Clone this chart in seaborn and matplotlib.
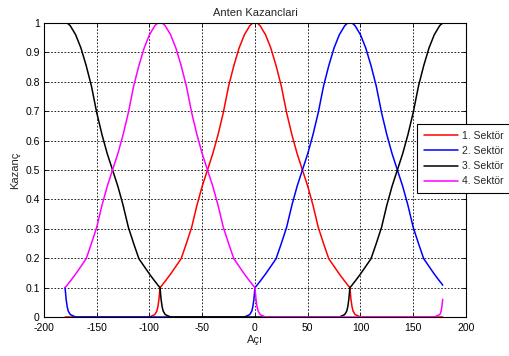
import numpy as np
import pandas as pd
import matplotlib
matplotlib.use("Agg")
import matplotlib.pyplot as plt
import seaborn as sns

# ---- data ----
angles = [-180, -179, -178, -177, -175,
          -170, -165, -160, -155, -150, -145, -140, -135, -130, -125, -120, -115, -110, -105, -100,
          -95, -93, -92, -91, -90, -89, -88, -87,
          -85, -80, -75, -70, -65, -60, -55, -50, -45, -40, -35, -30, -25, -20, -15, -10, -5,
          -3, -2, -1, 0, 1, 2, 3,
          5, 10, 15, 20, 25, 30, 35, 40, 45, 50, 55, 60, 65, 70, 75, 80, 85,
          87, 88, 89, 90, 91, 92, 93, 95,
          100, 105, 110, 115, 120, 125, 130, 135, 140, 145, 150, 155, 160, 165, 170, 175,
          176, 177, 178]

sektor1 = [0, 0, 0, 0, 0,
           0, 0, 0, 0, 0, 0, 0, 0, 0, 0, 0, 0, 0, 0, 0,
           0.008, 0.02, 0.035, 0.06, 0.1, 0.104, 0.108, 0.113,
           0.122, 0.146, 0.172, 0.198, 0.25, 0.305, 0.38, 0.445, 0.5, 0.555, 0.62, 0.695, 0.785, 0.855, 0.915, 0.96, 0.99,
           0.997, 0.999, 1.0, 1.0, 1.0, 0.999, 0.997,
           0.99, 0.96, 0.915, 0.855, 0.785, 0.695, 0.62, 0.555, 0.5, 0.445, 0.38, 0.305, 0.25, 0.198, 0.172, 0.146, 0.122,
           0.113, 0.108, 0.104, 0.1, 0.06, 0.035, 0.02, 0.008,
           0, 0, 0, 0, 0, 0, 0, 0, 0, 0, 0, 0, 0, 0, 0, 0,
           0, 0, 0]

sektor2 = [0.1, 0.06, 0.035, 0.02, 0.008,
           0, 0, 0, 0, 0, 0, 0, 0, 0, 0, 0, 0, 0, 0, 0,
           0, 0, 0, 0, 0, 0, 0, 0,
           0, 0, 0, 0, 0, 0, 0, 0, 0, 0, 0, 0, 0, 0, 0, 0, 0.008,
           0.02, 0.035, 0.06, 0.1, 0.104, 0.108, 0.113,
           0.122, 0.146, 0.172, 0.198, 0.25, 0.305, 0.38, 0.445, 0.5, 0.555, 0.62, 0.695, 0.785, 0.855, 0.915, 0.96, 0.99,
           0.997, 0.999, 1.0, 1.0, 1.0, 0.999, 0.997, 0.99,
           0.96, 0.915, 0.855, 0.785, 0.695, 0.62, 0.555, 0.5, 0.445, 0.38, 0.305, 0.25, 0.198, 0.172, 0.146, 0.122,
           0.118, 0.113, 0.108]

sektor3 = [1.0, 1.0, 0.999, 0.997, 0.99,
           0.96, 0.915, 0.855, 0.785, 0.695, 0.62, 0.555, 0.5, 0.445, 0.38, 0.305, 0.25, 0.198, 0.172, 0.146,
           0.122, 0.113, 0.108, 0.104, 0.1, 0.06, 0.035, 0.02,
           0.008, 0, 0, 0, 0, 0, 0, 0, 0, 0, 0, 0, 0, 0, 0, 0, 0,
           0, 0, 0, 0, 0, 0, 0,
           0, 0, 0, 0, 0, 0, 0, 0, 0, 0, 0, 0, 0, 0, 0, 0, 0.008,
           0.02, 0.035, 0.06, 0.1, 0.104, 0.108, 0.113, 0.122,
           0.146, 0.172, 0.198, 0.25, 0.305, 0.38, 0.445, 0.5, 0.555, 0.62, 0.695, 0.785, 0.855, 0.915, 0.96, 0.99,
           0.994, 0.997, 0.999]

sektor4 = [0.1, 0.104, 0.108, 0.113, 0.122,
           0.146, 0.172, 0.198, 0.25, 0.305, 0.38, 0.445, 0.5, 0.555, 0.62, 0.695, 0.785, 0.855, 0.915, 0.96,
           0.99, 0.997, 0.999, 1.0, 1.0, 1.0, 0.999, 0.997,
           0.99, 0.96, 0.915, 0.855, 0.785, 0.695, 0.62, 0.555, 0.5, 0.445, 0.38, 0.305, 0.25, 0.198, 0.172, 0.146, 0.122,
           0.113, 0.108, 0.104, 0.1, 0.06, 0.035, 0.02,
           0.008, 0, 0, 0, 0, 0, 0, 0, 0, 0, 0, 0, 0, 0, 0, 0, 0,
           0, 0, 0, 0, 0, 0, 0, 0,
           0, 0, 0, 0, 0, 0, 0, 0, 0, 0, 0, 0, 0, 0, 0, 0.008,
           0.013, 0.03, 0.06]

labels = ["1. Sektör", "2. Sektör", "3. Sektör", "4. Sektör"]
colors = ["#ff0000", "#0000ff", "#000000", "#ff00ff"]
xticks = [-200, -150, -100, -50, 0, 50, 100, 150, 200]
yticks = [0, 0.1, 0.2, 0.3, 0.4, 0.5, 0.6, 0.7, 0.8, 0.9, 1]
ytick_labels = ["0", "0.1", "0.2", "0.3", "0.4", "0.5", "0.6", "0.7", "0.8", "0.9", "1"]

series = [sektor1, sektor2, sektor3, sektor4]
for s in series:
    assert len(s) == len(angles), len(s)

df = pd.concat([pd.DataFrame({"Açı": angles, "Kazanç": s, "Sektör": lab})
                for s, lab in zip(series, labels)], ignore_index=True)

sns.set_style("white")
plt.rcParams["font.family"] = ["Liberation Sans", "DejaVu Sans"]

fig = plt.figure(figsize=(5.09, 3.56), dpi=100)
ax = fig.add_axes([0.0864, 0.1096, 0.829, 0.826])

sns.lineplot(data=df, x="Açı", y="Kazanç", hue="Sektör", hue_order=labels,
             palette=dict(zip(labels, colors)), estimator=None, sort=False,
             linewidth=1.1, ax=ax, legend=False)

ax.set_xlim(-200, 200)
ax.set_ylim(0, 1)
ax.set_xticks(xticks)
ax.set_xticklabels([str(t) for t in xticks])
ax.set_yticks(yticks)
ax.set_yticklabels(ytick_labels)
ax.grid(True, color="black", linestyle=(0, (2, 2)), linewidth=0.6)
ax.set_axisbelow(True)
ax.tick_params(direction="in", length=3, width=0.6, labelsize=7.5, colors="black",
               top=True, right=True, bottom=True, left=True, pad=3)
ax.tick_params(axis="x", pad=4)
for sp in ax.spines.values():
    sp.set_visible(True)
    sp.set_color("black")
    sp.set_linewidth(0.8)

ax.set_title("Anten Kazanclari", fontsize=8, pad=5)
ax.set_xlabel("Açı", fontsize=8, labelpad=2)
ax.set_ylabel("Kazanç", fontsize=8, labelpad=4)

handles = [plt.Line2D([], [], color=c, linewidth=1.1) for c in colors]
leg = fig.legend(handles, labels, loc="upper left", bbox_to_anchor=(0.8193, 0.6517),
                 fontsize=7.5, frameon=True, fancybox=False, shadow=False,
                 handlelength=3.3, handletextpad=0.4, labelspacing=0.5,
                 borderpad=0.65, borderaxespad=0)
leg.get_frame().set_edgecolor("black")
leg.get_frame().set_linewidth(0.8)
leg.get_frame().set_facecolor("white")
leg.get_frame().set_alpha(1)

fig.savefig("out.png", dpi=100, facecolor="white")
